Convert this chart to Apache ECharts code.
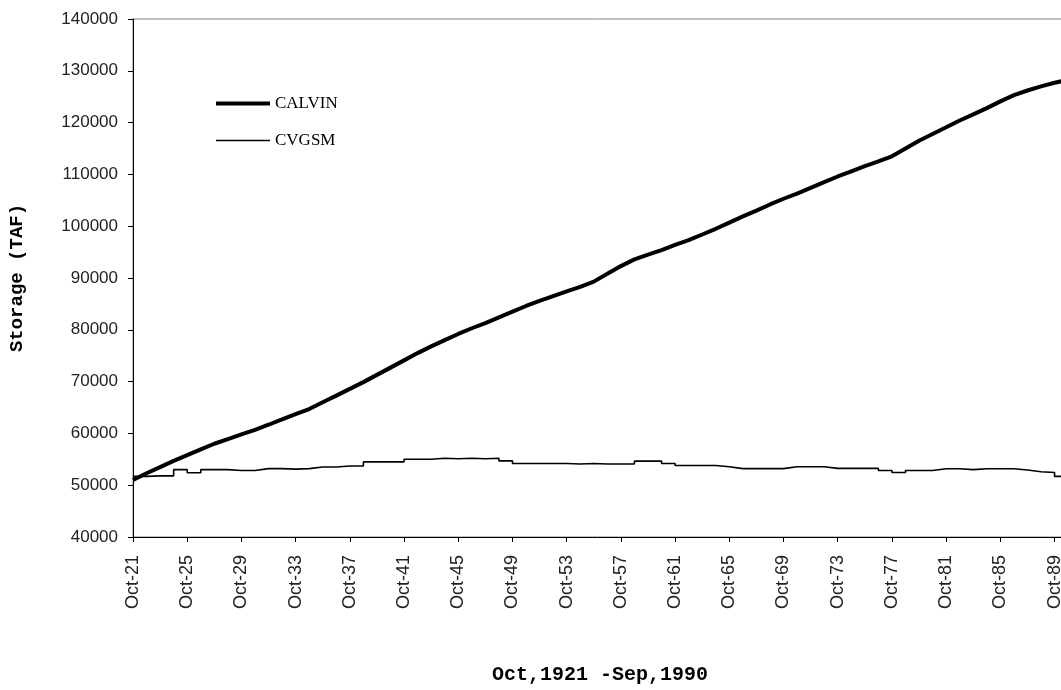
<!DOCTYPE html>
<html>
<head>
<meta charset="utf-8">
<title>Storage (TAF), Oct 1921 - Sep 1990</title>
<script src="https://cdn.jsdelivr.net/npm/echarts@6/dist/echarts.min.js"></script>
<style>
  html, body { margin: 0; padding: 0; background: #fff; }
  #chart { width: 1061px; height: 690px; }
</style>
</head>
<body>
<div id="chart"></div>
<script>
// Tick labels along the time axis (one every four water years)
const tickLabels = ['Oct-21', 'Oct-25', 'Oct-29', 'Oct-33', 'Oct-37', 'Oct-41',
  'Oct-45', 'Oct-49', 'Oct-53', 'Oct-57', 'Oct-61', 'Oct-65', 'Oct-69',
  'Oct-73', 'Oct-77', 'Oct-81', 'Oct-85', 'Oct-89'];

// Storage at the start of each water year Oct-21 .. Oct-89, plus Sep-90 (TAF)
const calvin = [51000, 52300, 53500, 54700, 55800, 56900, 58000, 58900, 59800,
  60700, 61670, 62700, 63700, 64700, 66000, 67300, 68600, 69900, 71300, 72700,
  74100, 75500, 76800, 78000, 79200, 80300, 81300, 82400, 83500, 84600, 85600,
  86500, 87400, 88300, 89300, 90800, 92300, 93600, 94500, 95400, 96400, 97300,
  98400, 99500, 100700, 101900, 103000, 104200, 105300, 106300, 107400, 108500,
  109600, 110600, 111600, 112500, 113500, 115000, 116500, 117800, 119100,
  120400, 121600, 122800, 124100, 125300, 126200, 127000, 127700, 128200];

const cvgsm = [51700, 51800, 51800, 53000, 52400, 53000, 53000, 52850, 52850,
  53200, 53200, 53100, 53200, 53500, 53500, 53700, 53700, 54500, 54500, 54500,
  55000, 55000, 55200, 55100, 55200, 55100, 55200, 54700, 54200, 54200, 54200,
  54200, 54100, 54200, 54100, 54100, 54100, 54650, 54650, 54200, 53800, 53800,
  53800, 53560, 53200, 53200, 53200, 53200, 53560, 53560, 53560, 53240, 53240,
  53240, 53240, 52850, 52460, 52850, 52850, 53180, 53180, 53000, 53180, 53180,
  53180, 52930, 52600, 52460, 51700, 51700];

// Month offset from Oct-1921 for each sample (last sample is Sep-1990)
const LAST_MONTH = 827;
const sampleMonth = i => (i < calvin.length - 1 ? i * 12 : LAST_MONTH);

const calvinData = calvin.map((v, i) => [sampleMonth(i), v]);
const cvgsmData = cvgsm.map((v, i) => [sampleMonth(i), v]);

const chart = echarts.init(document.getElementById('chart'), null, { renderer: 'canvas' });

chart.setOption({
  backgroundColor: '#ffffff',
  animation: false,
  grid: {
    left: 133, top: 19, width: 934, bottom: 153,
    outerBoundsMode: 'none',
    containLabel: false,
    show: true, borderColor: '#808080', borderWidth: 1, backgroundColor: 'transparent'
  },
  legend: {
    orient: 'vertical',
    left: 209, top: 90,
    itemWidth: 54, itemHeight: 14, itemGap: 20,
    textStyle: { fontFamily: 'Liberation Serif', fontSize: 17, color: '#000' },
    data: [
      { name: 'CALVIN', itemStyle: { opacity: 0 }, lineStyle: { width: 4, color: '#000' } },
      { name: 'CVGSM', itemStyle: { opacity: 0 }, lineStyle: { width: 1.6, color: '#000' } }
    ]
  },
  xAxis: {
    type: 'value',
    min: 0, max: LAST_MONTH, interval: 48,
    name: 'Oct,1921 -Sep,1990',
    nameLocation: 'middle',
    nameGap: 128,
    nameTextStyle: { fontFamily: 'Liberation Mono', fontWeight: 'bold', fontSize: 20, color: '#000' },
    axisLine: { show: true, lineStyle: { color: '#000', width: 1 } },
    axisTick: { show: true, length: 5, lineStyle: { color: '#000' } },
    splitLine: { show: false },
    axisLabel: {
      rotate: 90, margin: 18, showMaxLabel: false,
      fontFamily: 'Liberation Sans', fontSize: 18, color: '#222',
      formatter: v => (v % 48 === 0 ? (tickLabels[v / 48] || '') : '')
    }
  },
  yAxis: {
    type: 'value',
    min: 40000, max: 140000, interval: 10000,
    name: 'Storage (TAF)',
    nameLocation: 'middle',
    nameGap: 106,
    nameTextStyle: { fontFamily: 'Liberation Mono', fontWeight: 'bold', fontSize: 19, color: '#000' },
    axisLine: { show: true, lineStyle: { color: '#000', width: 1 } },
    axisTick: { show: true, length: 5, lineStyle: { color: '#000' } },
    splitLine: { show: false },
    axisLabel: {
      margin: 15,
      fontFamily: 'Liberation Sans', fontSize: 17, color: '#222',
      formatter: v => String(v)
    }
  },
  series: [
    {
      name: 'CALVIN',
      type: 'line',
      data: calvinData,
      symbol: 'none',
      lineStyle: { color: '#000', width: 4 },
      itemStyle: { color: '#000' },
      z: 3
    },
    {
      name: 'CVGSM',
      type: 'line',
      data: cvgsmData,
      step: 'end',
      symbol: 'none',
      lineStyle: { color: '#000', width: 1.6 },
      itemStyle: { color: '#000' },
      z: 2
    }
  ]
});
</script>
</body>
</html>
